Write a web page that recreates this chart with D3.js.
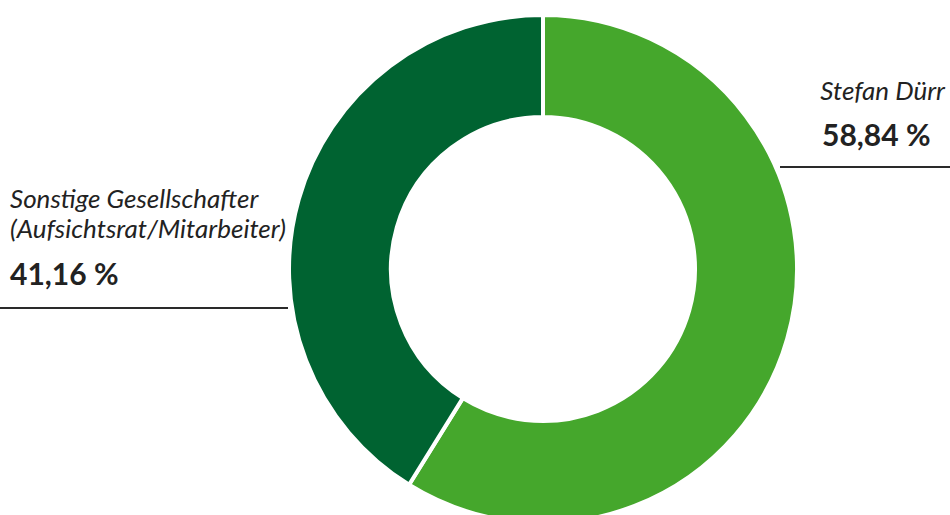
<!DOCTYPE html>
<html lang="de">
<head>
    <meta charset="UTF-8">
    <title>Gesellschafter</title>
    <script src="https://d3js.org/d3.v7.min.js"></script>
    <style>
        body { margin: 0; background: #fff; }
        svg { display: block; }
        .name { font-family: Lato, "Open Sans", sans-serif; font-style: italic; font-size: 26px; fill: #222; }
        .value { font-family: Lato, "Open Sans", sans-serif; font-weight: bold; font-size: 30px; fill: #222; }
        .leader { stroke: #2a2a2a; stroke-width: 2px; }
    </style>
</head>
<body>
    <svg width="950" height="515"></svg>
    <script>
        // shareholders
        const labels = ["Stefan Dürr", "Sonstige Gesellschafter (Aufsichtsrat/Mitarbeiter)"];
        const shares = [58.84, 41.16];
        const colors = ["#45a72c", "#006331"];

        const svg = d3.select("svg");
        const cx = 543, cy = 269;
        const outerR = 254, innerR = 152;

        const pie = d3.pie().sort(null).value(d => d);
        const arc = d3.arc().innerRadius(innerR).outerRadius(outerR);

        const g = svg.append("g").attr("transform", `translate(${cx},${cy})`);
        g.selectAll("path")
            .data(pie(shares))
            .enter()
            .append("path")
            .attr("d", arc)
            .attr("fill", (d, i) => colors[i])
            .attr("stroke", "#fff")
            .attr("stroke-width", 4);

        const fmt = v => d3.format(".2f")(v).replace(".", ",") + " %";

        // right label
        svg.append("line").attr("class", "leader")
            .attr("x1", 780).attr("x2", 950).attr("y1", 167).attr("y2", 167);
        svg.append("text").attr("class", "name")
            .attr("x", 945).attr("y", 100).attr("text-anchor", "end").text(labels[0]);
        svg.append("text").attr("class", "value")
            .attr("x", 822).attr("y", 146).text(fmt(shares[0]));

        // left label
        svg.append("line").attr("class", "leader")
            .attr("x1", 0).attr("x2", 288).attr("y1", 308).attr("y2", 308);
        svg.append("text").attr("class", "name")
            .attr("x", 10).attr("y", 208).text("Sonstige Gesellschafter");
        svg.append("text").attr("class", "name")
            .attr("x", 10).attr("y", 238).text("(Aufsichtsrat/Mitarbeiter)");
        svg.append("text").attr("class", "value")
            .attr("x", 10).attr("y", 285).text(fmt(shares[1]));
    </script>
</body>
</html>
